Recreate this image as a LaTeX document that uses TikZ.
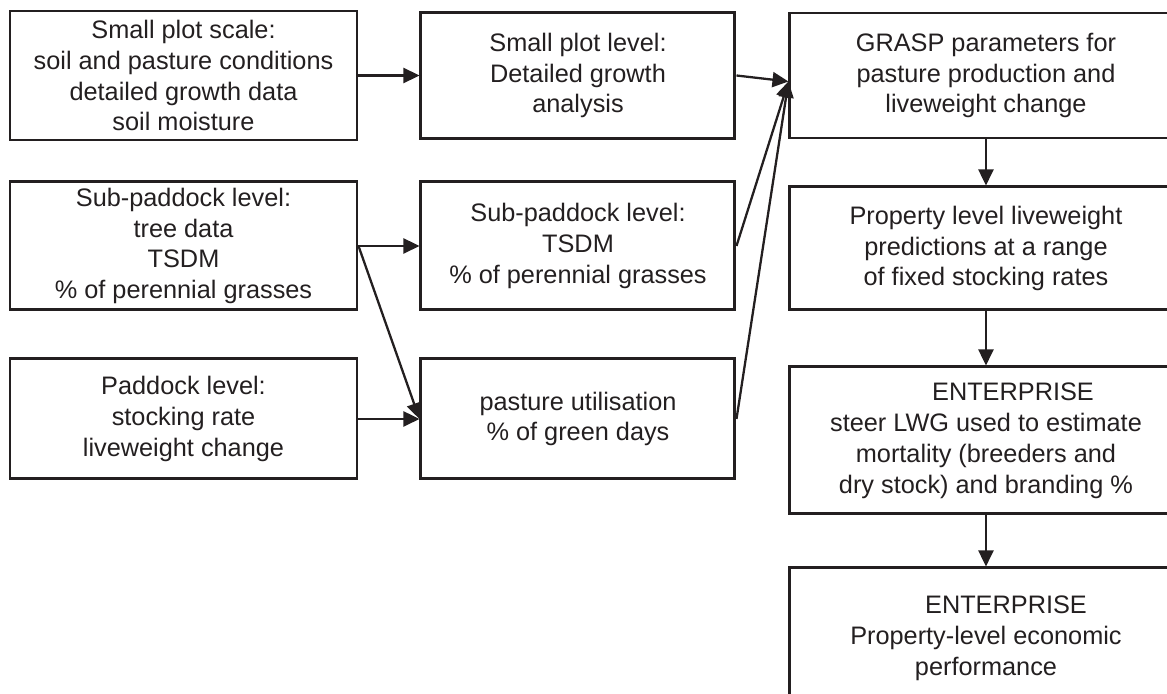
\documentclass[tikz,border=0pt]{standalone}
\usepackage{fontspec}
\setmainfont{Liberation Sans}
\usetikzlibrary{arrows.meta,positioning}
\definecolor{ink}{HTML}{231F20}

\begin{document}
\begin{tikzpicture}[
  node distance=1cm,
  box/.style={draw=ink, line width=1.7pt, align=center, inner sep=0pt,
    text=ink, font=\fontsize{14.4}{17.6}\selectfont},
  leftbox/.style={box, minimum width=6.94cm},
  midbox/.style={box, minimum width=6.28cm},
  rightbox/.style={box, minimum width=7.84cm},
  flow/.style={draw=ink, -{Triangle[length=3.2mm, width=3mm]}, line width=1.3pt}
]
\useasboundingbox (0,0) rectangle (23.34,-13.88);
\node[leftbox, minimum height=2.58cm] (plotscale) at (3.67,-1.51) {Small plot scale:\\soil and pasture conditions\\detailed growth data\\soil moisture};
\node[leftbox, minimum height=2.56cm, below=0.78cm of plotscale] (subpaddock) {Sub-paddock level:\\tree data\\TSDM\\\% of perennial grasses};
\node[leftbox, minimum height=2.4cm, below=0.92cm of subpaddock] (paddock) {Paddock level:\\stocking rate\\liveweight change};
\node[midbox, minimum height=2.52cm, right=1.22cm of plotscale] (plotlevel) {Small plot level:\\Detailed growth\\analysis};
\node[midbox, minimum height=2.56cm, right=1.22cm of subpaddock] (subtsdm) {Sub-paddock level:\\TSDM\\\% of perennial grasses};
\node[midbox, minimum height=2.4cm, right=1.22cm of paddock] (utilisation) {pasture utilisation\\\% of green days};
\node[rightbox, minimum height=2.5cm, right=1.04cm of plotlevel] (grasp) {GRASP parameters for\\pasture production and\\liveweight change};
\node[rightbox, minimum height=2.46cm, below=0.92cm of grasp] (property) {Property level liveweight\\predictions at a range\\of fixed stocking rates};
\node[rightbox, minimum height=2.94cm, below=1.08cm of property] (enterprise) {\hspace*{1.08cm}ENTERPRISE\\steer LWG used to estimate\\mortality (breeders and\\dry stock) and branding \%};
\node[rightbox, minimum height=2.82cm, below=1.02cm of enterprise] (economic) {\hspace*{0.8cm}ENTERPRISE\\Property-level economic\\performance};
\coordinate (graspin) at ([yshift=-0.12cm]grasp.west);
\draw[flow] (plotscale) -- (plotlevel);
\draw[flow] (subpaddock) -- (subtsdm);
\draw[flow] (subpaddock.east) -- (utilisation.west);
\draw[flow] (paddock) -- (utilisation);
\draw[flow] (plotlevel.east) -- (graspin);
\draw[flow] (subtsdm.east) -- (graspin);
\draw[flow] (utilisation.east) -- (graspin);
\draw[flow] (grasp) -- (property);
\draw[flow] (property) -- (enterprise);
\draw[flow] (enterprise) -- (economic);
\end{tikzpicture}
\end{document}
